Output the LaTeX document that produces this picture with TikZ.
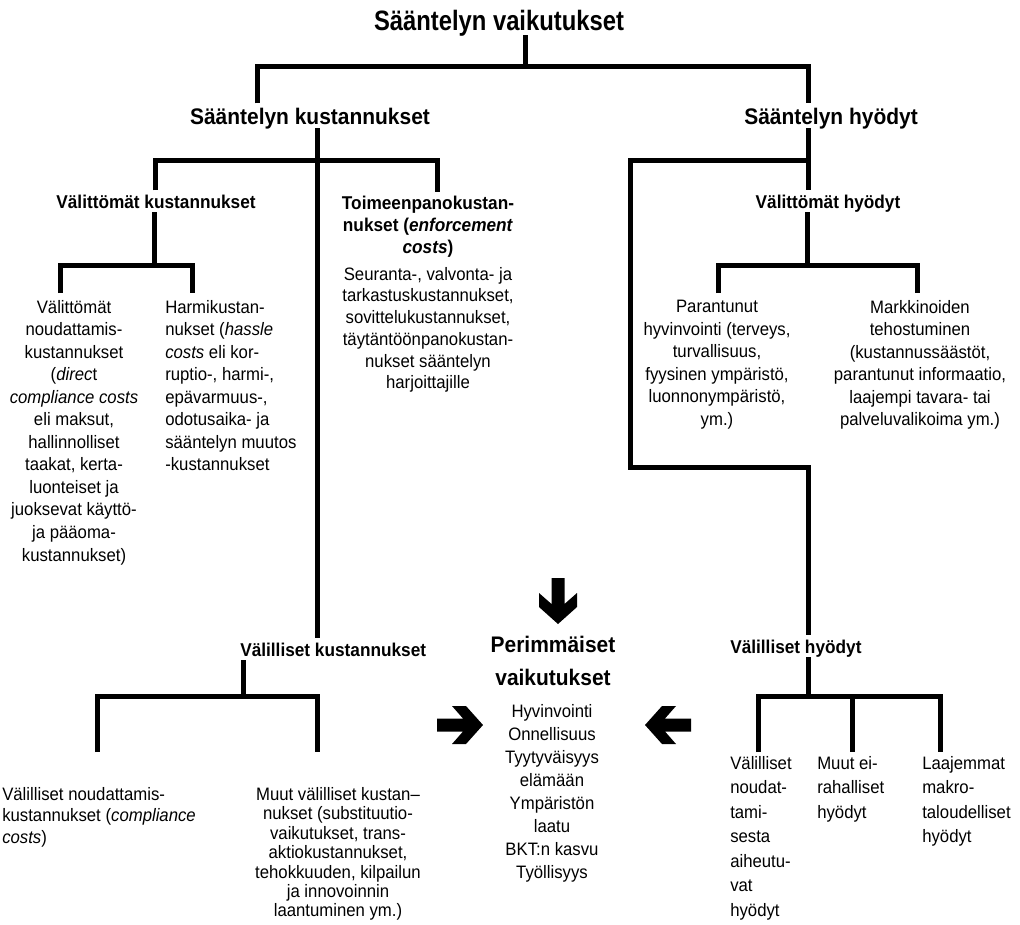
\documentclass[tikz,border=0pt]{standalone}
\usepackage{fontspec}
\setmainfont{Liberation Sans}[FakeStretch=0.93]
\newfontfamily\titlefamily{Liberation Sans}[FakeStretch=0.85]

\tikzset{
	branch/.style={line width=3.75pt, line join=miter},
	head/.style={font=\bfseries\fontsize{16.9}{20}\selectfont, inner xsep=0pt, inner ysep=3pt, text depth=0pt},
	subhead/.style={font=\bfseries\fontsize{13.9}{17}\selectfont, inner xsep=0pt, inner ysep=3pt, text depth=0pt},
	txt/.style={font={\fontsize{13.5}{#1}\selectfont}, inner xsep=0pt, inner ysep=5pt},
	txt/.default=16.9,
	fatarrow/.pic={\fill (0,-6.5) -- (26,-6.5) -- (15,-19) -- (29,-19) -- (46,0) -- (29,19) -- (15,19) -- (26,6.5) -- (0,6.5) -- cycle;}
}

\begin{document}
\begin{tikzpicture}[x=0.75pt, y=-0.75pt]
	\fill[white] (0,0) rectangle (1020,924);
	\useasboundingbox (0,0) rectangle (1020,924);

	% otsikot
	\node[anchor=base, font=\titlefamily\bfseries\fontsize{21}{25}\selectfont, inner xsep=0pt, inner ysep=3pt, text depth=0pt] (title) at (499,31) {Sääntelyn vaikutukset};
	\node[head, anchor=base] (kust) at (310,124) {Sääntelyn kustannukset};
	\node[head, anchor=base west] (hyod) at (744,124) {Sääntelyn hyödyt};

	\node[subhead, anchor=base] (vkust) at (156,208) {Välittömät kustannukset};
	\node[anchor=north, align=center, font=\bfseries\fontsize{13.9}{16.5}\selectfont, inner xsep=0pt, inner ysep=3pt] (toim) at (428,191.5) {Toimeenpanokustan-\\nukset (\textit{enforcement}\\\textit{costs})};
	\node[subhead, anchor=base] (vhyod) at (828,208) {Välittömät hyödyt};
	\node[subhead, anchor=base west] (vkust2) at (240,656) {Välilliset kustannukset};
	\node[subhead, anchor=base west] (vhyod2) at (730,653) {Välilliset hyödyt};
	\node[anchor=north, align=center, font=\bfseries\fontsize{16.9}{24.75}\selectfont, inner sep=0pt] (perim) at (553,635.6) {Perimmäiset\\vaikutukset};

	% tekstit
	\node[txt, anchor=north, align=center] (vnoud) at (74,293.2) {Välittömät\\noudattamis-\\kustannukset\\(\textit{direc}t\\\textit{compliance costs}\\eli maksut,\\hallinnolliset\\taakat, kerta-\\luonteiset ja\\juoksevat käyttö-\\ja pääoma-\\kustannukset)};
	\node[txt, anchor=north west, align=left] (harmi) at (165,293.2) {Harmikustan-\\nukset (\textit{hassle}\\\textit{costs} eli kor-\\ruptio-, harmi-,\\epävarmuus-,\\odotusaika- ja\\sääntelyn muutos\\-kustannukset};
	\node[txt=16.3, anchor=north, align=center] (toimtext) at (428,260.2) {Seuranta-, valvonta- ja\\tarkastuskustannukset,\\sovittelukustannukset,\\täytäntöönpanokustan-\\nukset sääntelyn\\harjoittajille};
	\node[txt, anchor=north, align=center] (paran) at (717,293.2) {Parantunut\\hyvinvointi (terveys,\\turvallisuus,\\fyysinen ympäristö,\\luonnonympäristö,\\ym.)};
	\node[txt, anchor=north, align=center] (markk) at (920,293.2) {Markkinoiden\\tehostuminen\\(kustannussäästöt,\\parantunut informaatio,\\laajempi tavara- tai\\palveluvalikoima ym.)};
	\node[txt=17.25, anchor=north, align=center] (perimtext) at (552,697.2) {Hyvinvointi\\Onnellisuus\\Tyytyväisyys\\elämään\\Ympäristön\\laatu\\BKT:n kasvu\\Työllisyys};
	\node[txt=16.1, anchor=north west, align=left] (vnoud2) at (2,780.2) {Välilliset noudattamis-\\kustannukset (\textit{compliance}\\\textit{costs})};
	\node[txt=14.6, anchor=north, align=center] (muut) at (338,780.2) {Muut välilliset kustan–\\nukset (substituutio-\\vaikutukset, trans-\\aktiokustannukset,\\tehokkuuden, kilpailun\\ja innovoinnin\\laantuminen ym.)};
	\node[txt=18.4, anchor=north west, align=left] (vnhyod) at (730,749.2) {Välilliset\\noudat-\\tami-\\sesta\\aiheutu-\\vat\\hyödyt};
	\node[txt=18.4, anchor=north west, align=left] (muutei) at (817,749.2) {Muut ei-\\rahalliset\\hyödyt};
	\node[txt=18.4, anchor=north west, align=left] (laaj) at (922,749.2) {Laajemmat\\makro-\\taloudelliset\\hyödyt};

	% liitoskohdat
	\coordinate (topj) at (525,67);
	\coordinate (topl) at (257,67);
	\coordinate (topr) at (808,67);
	\coordinate (kj) at (317,160);
	\coordinate (kl) at (155,160);
	\coordinate (kr) at (437,160);
	\coordinate (vkj) at (154,265);
	\coordinate (vkl) at (60,265);
	\coordinate (vkr) at (192,265);
	\coordinate (hj) at (808,160);
	\coordinate (hl) at (630,160);
	\coordinate (hm) at (630,467);
	\coordinate (vhj) at (807,265);
	\coordinate (vhl) at (718,265);
	\coordinate (vhr) at (917,265);
	\coordinate (vkj2) at (243,696);
	\coordinate (vkl2) at (97,696);
	\coordinate (vkr2) at (317,696);
	\coordinate (vhj2) at (808,696);
	\coordinate (vhl2) at (758,696);
	\coordinate (vhm2) at (852,696);
	\coordinate (vhr2) at (940,696);
	\coordinate (lowend) at (0,752);

	\draw[branch] (topj |- title.south) -- (topj);
	\draw[branch] (topl |- kust.north) |- (topr) -- (topr |- hyod.north);

	\draw[branch] (kj |- kust.south) -- (kj |- vkust2.north);
	\draw[branch] (kl |- vkust.north) |- (kr) -- (kr |- toim.north);
	\draw[branch] (vkj |- vkust.south) -- (vkj);
	\draw[branch] (vkl |- vnoud.north) |- (vkr) -- (vkr |- harmi.north);

	\draw[branch] (hj |- hyod.south) -- (hj |- vhyod.north);
	\draw[branch] (hj) -| (hm) -| (hj |- vhyod2.north);
	\draw[branch] (vhj |- vhyod.south) -- (vhj);
	\draw[branch] (vhl |- paran.north) |- (vhr) -- (vhr |- markk.north);

	\draw[branch] (vkj2 |- vkust2.south) -- (vkj2);
	\draw[branch] (vkl2 |- lowend) |- (vkr2) -- (vkr2 |- lowend);
	\draw[branch] (vhj2 |- vhyod2.south) -- (vhj2);
	\draw[branch] (vhl2 |- lowend) |- (vhr2) -- (vhr2 |- lowend);
	\draw[branch] (vhm2) -- (vhm2 |- lowend);

	% nuolet
	\pic at (558,578) [rotate=-90] {fatarrow};
	\pic at (437,725) {fatarrow};
	\pic at (691,725) [rotate=180] {fatarrow};
\end{tikzpicture}
\end{document}
